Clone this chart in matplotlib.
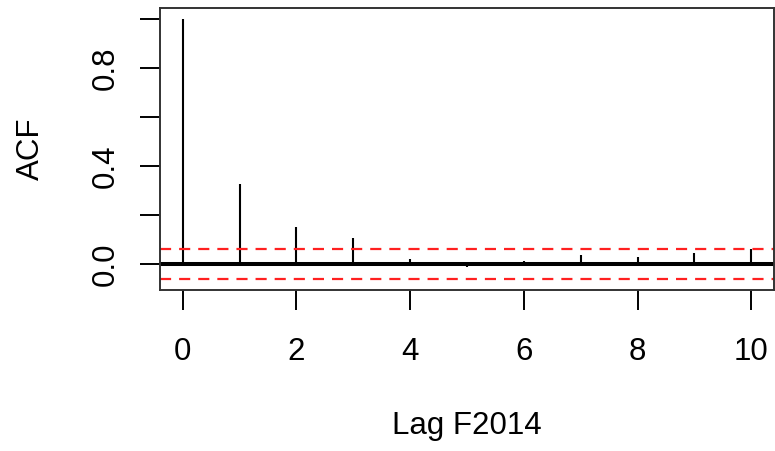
import matplotlib
matplotlib.use("Agg")
import matplotlib.pyplot as plt

# Autocorrelation estimates by lag
lags = [0, 1, 2, 3, 4, 5, 6, 7, 8, 9, 10]
acf_values = [1.0, 0.325, 0.152, 0.105, 0.022, -0.013, 0.013, 0.038, 0.030, 0.046, 0.060]
conf_limit = 0.062

x_ticks = [0, 2, 4, 6, 8, 10]
y_ticks = [0.0, 0.2, 0.4, 0.6, 0.8, 1.0]
y_tick_labels = ["0.0", "", "0.4", "", "0.8", ""]

plt.rcParams["font.family"] = ["Liberation Sans", "DejaVu Sans"]

fig = plt.figure(figsize=(7.75, 4.51), dpi=100)
ax = fig.add_axes([160 / 775, 1 - 290 / 451, 614 / 775, 282 / 451])

ax.vlines(lags, 0, acf_values, color="black", linewidth=1.5)
ax.axhline(0, color="black", linewidth=2.9)
for lim in (conf_limit, -conf_limit):
    ax.axhline(lim, color="#ff2020", linewidth=1.6, linestyle=(0, (5.0, 3.6)))

ax.set_xlim(-0.4, 10.4)
ax.set_ylim(-0.106, 1.045)

ax.set_xticks(x_ticks)
ax.set_xticklabels([str(t) for t in x_ticks])
ax.set_yticks(y_ticks)
ax.set_yticklabels(y_tick_labels, rotation=90, va="center")

ax.tick_params(axis="both", direction="out", length=14.5, width=1.4,
               labelsize=22.5, colors="black")
ax.tick_params(axis="x", pad=19)
ax.tick_params(axis="y", pad=14)

for spine in ax.spines.values():
    spine.set_linewidth(1.4)
    spine.set_color("#333333")

ax.set_xlabel("Lag F2014", fontsize=22.5, labelpad=32)
ax.set_ylabel("ACF", fontsize=22.5, labelpad=32)

fig.savefig("out.png", dpi=100, facecolor="white")
